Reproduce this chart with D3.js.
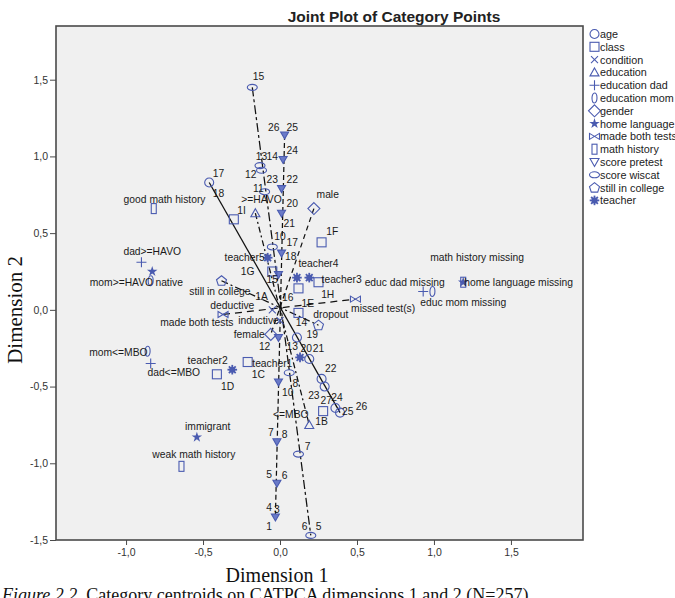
<!DOCTYPE html>
<html><head><meta charset="utf-8">
<script src="https://cdn.jsdelivr.net/npm/d3@7"></script>
<style>body{margin:0;background:#fff}svg{display:block}</style>
</head><body>
<svg id="c" width="675" height="598"></svg>
<script>
// ---------- data (dimension 1, dimension 2) ----------
const xTicks = [-1.0, -0.5, 0.0, 0.5, 1.0, 1.5];
const yTicks = [-1.5, -1.0, -0.5, 0.0, 0.5, 1.0, 1.5];
const legendNames = ["age","class","condition","education","education dad","education mom","gender","home language","made both tests","math history","score pretest","score wiscat","still in college","teacher"];

// ordinal variables: points, and their labels [text, x, y]
const agePts = [[-0.46,0.83],[0.11,-0.18],[0.19,-0.32],[0.27,-0.45],[0.29,-0.50],[0.36,-0.64],[0.39,-0.67]];
const ageLabels = [["17",-0.40,0.89],["18",-0.40,0.76],["19",0.21,-0.16],["20",0.17,-0.25],["21",0.25,-0.25],["22",0.33,-0.38],["23",0.22,-0.56],["27",0.30,-0.59],["24",0.37,-0.57],["25",0.44,-0.66],["26",0.53,-0.63]];

const pretestPts = [[0.03,1.14],[0.02,0.98],[0.01,0.79],[0.01,0.63],[0.01,0.37],[-0.01,0.23],[-0.01,-0.18],[-0.01,-0.47],[-0.02,-0.86],[-0.02,-1.13],[-0.03,-1.35]];
const pretestLabels = [["26",-0.04,1.19],["25",0.08,1.19],["24",0.08,1.04],["23",-0.05,0.85],["22",0.08,0.85],["20",0.08,0.69],["21",0.06,0.56],["17",0.08,0.44],["18",0.07,0.35],["15",-0.05,0.20],["16",0.05,0.08],["14",0.14,-0.08],["12",-0.10,-0.24],["13",0.08,-0.24],["10",0.05,-0.54],["7",-0.06,-0.80],["8",0.03,-0.81],["5",-0.07,-1.07],["6",0.03,-1.08],["4",-0.07,-1.29],["3",-0.02,-1.30],["1",-0.07,-1.41]];

const wiscatPts = [[-0.18,1.45],[-0.13,0.94],[-0.12,0.91],[-0.10,0.77],[-0.05,0.41],[0.06,-0.41],[0.12,-0.94],[0.20,-1.47]];
const wiscatLabels = [["15",-0.14,1.52],["13",-0.12,1.00],["14",-0.05,1.00],["12",-0.19,0.88],["11",-0.14,0.79],["10",0.00,0.48],["8",0.10,-0.48],["7",0.18,-0.89],["6",0.16,-1.41],["5",0.25,-1.41]];

// nominal variables: [category, x, y, label x, label y]
const education = [[">=HAVO",-0.16,0.63,-0.12,0.72],["<=MBO",0.19,-0.75,0.07,-0.68]];
const gender = [["male",0.22,0.66,0.31,0.75],["female",-0.06,-0.16,-0.20,-0.16]];
const college = [["still in college",-0.38,0.19,-0.39,0.12],["dropout",0.25,-0.10,0.33,-0.03]];
const tests = [["made both tests",-0.37,-0.03,-0.54,-0.08],["missed test(s)",0.49,0.07,0.67,0.01]];
const condition = [["deductive",-0.05,0.00,-0.31,0.03],["inductive",0.00,-0.07,-0.14,-0.07]];
const eduDad = [["dad>=HAVO",-0.90,0.31,-0.83,0.38],["dad<=MBO",-0.84,-0.35,-0.69,-0.41],["educ dad missing",0.93,0.12,0.81,0.18]];
const eduMom = [["mom>=HAVO",-0.84,0.19,-1.03,0.18],["mom<=MBO",-0.86,-0.27,-1.05,-0.28],["educ mom missing",0.99,0.12,1.19,0.05]];
const homeLang = [["native",-0.83,0.25,-0.72,0.18],["immigrant",-0.54,-0.83,-0.47,-0.76],["home language missing",1.19,0.18,1.55,0.18]];
const mathHist = [["good math history",-0.82,0.66,-0.75,0.72],["weak math history",-0.64,-1.02,-0.56,-0.94],["math history missing",1.19,0.18,1.28,0.34]];
const teacher = [["teacher1",0.13,-0.31,-0.05,-0.35],["teacher2",-0.31,-0.39,-0.47,-0.33],["teacher3",0.19,0.21,0.40,0.20],["teacher4",0.11,0.21,0.25,0.30],["teacher5",-0.08,0.34,-0.23,0.34]];
const classes = [["1A",0.12,-0.02,-0.12,0.09],["1B",0.28,-0.66,0.27,-0.73],["1C",-0.21,-0.34,-0.14,-0.42],["1D",-0.41,-0.42,-0.34,-0.50],["1E",0.12,0.14,0.18,0.04],["1F",0.27,0.44,0.34,0.51],["1G",-0.05,0.25,-0.21,0.25],["1H",0.25,0.18,0.31,0.10],["1I",-0.30,0.59,-0.25,0.65]];

// ---------- layout ----------
const svg = d3.select("#c");
const P = {l:56, t:26, r:583, b:540};
const x = d3.scaleLinear().domain([-1.455, 1.968]).range([P.l, P.r]);
const y = d3.scaleLinear().domain([-1.5, 1.85]).range([P.b, P.t]);
const loc = d3.formatLocale({decimal:",", thousands:".", grouping:[3], currency:["",""], minus:"-"});
const fmt = loc.format(".1f");
const SANS = "'Liberation Sans', Arial, sans-serif";
const SERIF = "'Liberation Serif', 'Times New Roman', serif";
const C = "#4a5bb0";

svg.append("rect").attr("width",675).attr("height",598).attr("fill","#fff");

// title
svg.append("text").attr("x",394).attr("y",22).attr("text-anchor","middle")
  .attr("font-family",SANS).attr("font-weight","bold").attr("font-size",15.5).attr("fill","#222")
  .text("Joint Plot of Category Points");

// plot frame
svg.append("rect").attr("x",P.l).attr("y",P.t).attr("width",P.r-P.l).attr("height",P.b-P.t)
  .attr("fill","#f0f0f0").attr("stroke","#4a4a4a").attr("stroke-width",1.6);

svg.append("defs").append("clipPath").attr("id","clip").append("rect")
  .attr("x",P.l).attr("y",P.t).attr("width",P.r-P.l).attr("height",P.b-P.t);

// axes
function styleAxis(g){
  g.select(".domain").remove();
  g.selectAll("line").attr("stroke","#4a4a4a");
  g.selectAll("text").attr("font-family",SANS).attr("font-size",10.5).attr("fill","#333");
}
svg.append("g").attr("transform",`translate(0,${P.b})`)
  .call(d3.axisBottom(x).tickValues(xTicks).tickFormat(fmt).tickSize(5).tickPadding(4)).call(styleAxis);
svg.append("g").attr("transform",`translate(${P.l},0)`)
  .call(d3.axisLeft(y).tickValues(yTicks).tickFormat(fmt).tickSize(6).tickPadding(2)).call(styleAxis);

// axis titles and caption
svg.append("text").attr("transform",`translate(15,${y(0)}) rotate(-90)`).attr("text-anchor","middle")
  .attr("dominant-baseline","central").attr("font-family",SERIF).attr("font-size",21).attr("fill","#111").text("Dimension 2");
svg.append("text").attr("x",x(0)-3).attr("y",582).attr("text-anchor","middle")
  .attr("font-family",SERIF).attr("font-size",20).attr("fill","#111").text("Dimension 1");
const cap = svg.append("text").attr("x",2).attr("y",601).attr("font-family",SERIF).attr("font-size",18).attr("fill","#111");
cap.append("tspan").attr("font-style","italic").text("Figure 2.2.");
cap.append("tspan").text(" Category centroids on CATPCA dimensions 1 and 2 (N=257).");

// ---------- symbols ----------
function sym(g, type, legend){
  const st = el => el.attr("fill","none").attr("stroke",C).attr("stroke-width",1.1);
  switch(type){
    case "age": st(g.append("circle").attr("r",4.5)); break;
    case "class": st(g.append("rect").attr("x",-4.5).attr("y",-4.5).attr("width",9).attr("height",9)); break;
    case "condition": st(g.append("path").attr("d","M-3.5,-3.5L3.5,3.5M3.5,-3.5L-3.5,3.5")); break;
    case "education": st(g.append("path").attr("d","M0,-4.5L4.5,3.5L-4.5,3.5Z")); break;
    case "education dad": st(g.append("path").attr("d","M-5,0H5M0,-5V5")); break;
    case "education mom": st(g.append("ellipse").attr("rx",2.5).attr("ry",5)); break;
    case "gender": st(g.append("path").attr("d","M0,-6L6,0L0,6L-6,0Z")); break;
    case "home language": g.append("path").attr("d",d3.symbol(d3.symbolStar,34)()).attr("fill",C); break;
    case "made both tests": st(g.append("path").attr("d","M-5,-3L5,3V-3L-5,3Z")); break;
    case "math history": st(g.append("rect").attr("x",-2.5).attr("y",-5).attr("width",5).attr("height",10)); break;
    case "score pretest": {
      const p = g.append("path").attr("d", legend ? "M0,4.5L4.5,-3.5L-4.5,-3.5Z" : "M0,4L4,-3L-4,-3Z");
      st(p); if(!legend) p.attr("fill","#6a7ac8"); break; }
    case "score wiscat": st(g.append("ellipse").attr("rx",5).attr("ry",3)); break;
    case "still in college": st(g.append("path").attr("d","M0,-5L5,-1L3.2,4.5L-3.2,4.5L-5,-1Z")); break;
    case "teacher": {
      g.append("circle").attr("r",3).attr("fill",C);
      for(let i=0;i<8;i++){
        const a = i*Math.PI/4;
        g.append("line").attr("x1",2*Math.cos(a)).attr("y1",2*Math.sin(a))
          .attr("x2",4.8*Math.cos(a)).attr("y2",4.8*Math.sin(a)).attr("stroke",C).attr("stroke-width",1.8);
      }
      break; }
  }
}

const plotG = svg.append("g").attr("clip-path","url(#clip)");

// ---------- lines ----------
const lineGen = d3.line().x(d=>x(d[0])).y(d=>y(d[1]));
const ends = a => [a[0], a[a.length-1]];
const catPt = r => [r[1], r[2]];
const lines = [
  [ends(agePts), null],
  [ends(pretestPts), "5,3"],
  [ends(wiscatPts), "9,3,3,3"],
  [education.map(catPt), "6,3,2,3"],
  [gender.map(catPt), "5,4"],
  [college.map(catPt), "7,3,2,3"],
  [tests.map(catPt), "7,5"]
];
lines.forEach(([d,dash])=>{
  const p = plotG.append("path").attr("d",lineGen(d)).attr("fill","none").attr("stroke","#111").attr("stroke-width",1.25);
  if(dash) p.attr("stroke-dasharray",dash);
});

// ---------- markers ----------
function drawPts(pts, type){
  pts.forEach(d=>{ const g = plotG.append("g").attr("transform",`translate(${x(d[0])},${y(d[1])})`); sym(g,type,false); });
}
drawPts(agePts,"age");
drawPts(pretestPts,"score pretest");
drawPts(wiscatPts,"score wiscat");
const cats = [[classes,"class"],[condition,"condition"],[education,"education"],[eduDad,"education dad"],[eduMom,"education mom"],[gender,"gender"],[homeLang,"home language"],[tests,"made both tests"],[mathHist,"math history"],[college,"still in college"],[teacher,"teacher"]];
cats.forEach(([arr,type])=>drawPts(arr.map(catPt),type));

// ---------- labels ----------
const labG = svg.append("g");
const lab = (t,lx,ly)=> labG.append("text").attr("x",x(lx)).attr("y",y(ly)).attr("text-anchor","middle")
  .attr("dominant-baseline","central").attr("font-family",SANS).attr("font-size",10.3).attr("fill","#1a1a1a").text(t);
[ageLabels, pretestLabels, wiscatLabels].forEach(a=>a.forEach(d=>lab(d[0],d[1],d[2])));
cats.forEach(([arr])=>arr.forEach(d=>lab(d[0],d[3],d[4])));

// ---------- legend ----------
const lg = svg.append("g");
legendNames.forEach((n,i)=>{
  const yy = 34 + i*12.8;
  const g = lg.append("g").attr("transform",`translate(594.5,${yy})`);
  sym(g,n,true);
  lg.append("text").attr("x",600).attr("y",yy).attr("dominant-baseline","central")
    .attr("font-family",SANS).attr("font-size",10.8).attr("fill","#222").text(n);
});
</script>
</body></html>
